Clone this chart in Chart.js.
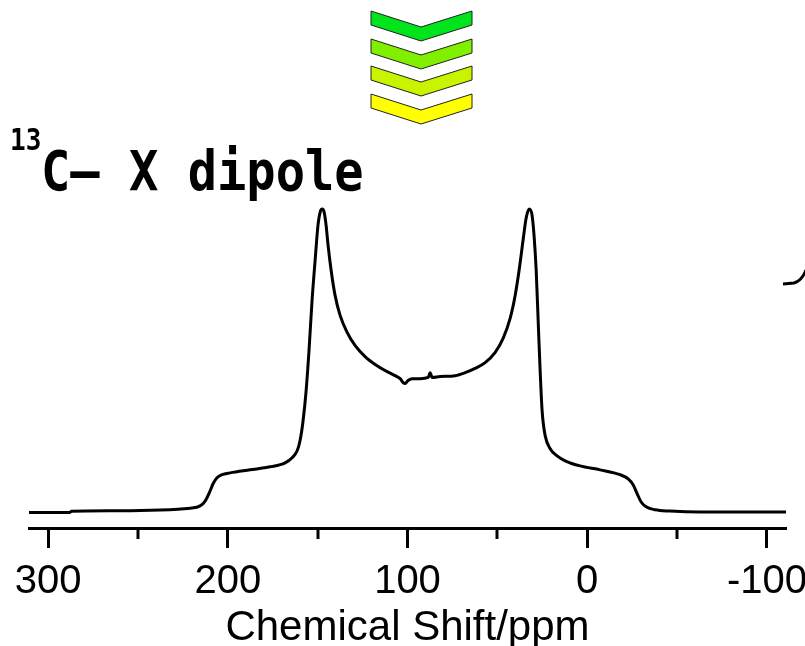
<!DOCTYPE html>
<html>
<head>
<meta charset="utf-8">
<title>13C-X dipole spectrum</title>
<script src="https://cdn.jsdelivr.net/npm/chart.js@4.4.1/dist/chart.umd.min.js"></script>
<style>
  html, body { margin: 0; padding: 0; background: #fff; }
  canvas { display: block; }
</style>
</head>
<body>
<canvas id="espectro" width="805" height="646"></canvas>
<script>
// chemical shift (ppm), left to right
const shiftPpm = [
  310.6, 288.0, 287.0, 265.0, 243.0, 221.0, 215.4, 212.6, 209.8, 208.2,
  206.0, 203.2, 198.7, 187.6, 176.5, 168.1, 164.2, 161.4, 159.8, 158.1,
  156.4, 154.8, 153.1, 151.4, 149.8, 148.6, 147.5, 146.4, 145.3, 144.2,
  142.5, 140.3, 137.5, 133.6, 129.2, 123.6, 118.0, 112.5, 106.9, 104.1,
  102.4, 101.3, 99.7, 97.4, 93.0, 88.5, 87.4, 86.3, 81.9, 73.5,
  67.9, 62.4, 56.8, 51.3, 46.8, 42.9, 40.1, 37.9, 35.7, 34.0,
  32.3, 30.7, 29.6, 28.4, 27.3, 26.2, 25.1, 23.4, 20.6, 16.8,
  12.3, 4.0, -7.2, -18.3, -22.8, -25.6, -27.8, -30.0, -32.8, -37.8,
  -46.1, -62.8, -110.6
];
// intensity (peak = 100)
const intensity = [
  -0.2, -0.2, 0.2, 0.4, 0.6, 1.2, 2.0, 3.6, 7.0, 9.3,
  11.3, 12.3, 12.9, 13.9, 14.9, 16.2, 17.9, 20.2, 23.5, 30.1,
  40.1, 53.3, 69.9, 83.1, 94.7, 99.0, 100, 99.0, 94.7, 88.1,
  79.8, 71.5, 64.9, 59.3, 55.0, 51.3, 48.7, 46.7, 45.0, 44.0,
  42.7, 42.4, 43.4, 44.0, 44.0, 44.4, 46.0, 44.4, 44.7, 45.0,
  46.0, 47.4, 49.3, 52.6, 57.3, 63.9, 71.5, 79.8, 89.7, 97.0,
  100, 98.0, 91.4, 79.8, 63.2, 46.7, 33.4, 25.2, 20.9, 18.5,
  16.9, 15.2, 13.9, 12.3, 10.9, 8.9, 6.0, 3.3, 1.7, 0.7,
  0.3, 0, 0
];
const minorTicks = [250, 150, 50, -50];
const chevronColors = ['#00e41c', '#80f000', '#c8f400', '#ffff00'];

const fonteEixo = '"Liberation Sans", Arial, sans-serif';

const pontos = shiftPpm.map((x, i) => ({ x: x, y: intensity[i] }));

// fundo branco, ticks menores, título e setas
const decoracao = {
  id: 'decoracao',
  beforeDraw(chart) {
    const ctx = chart.ctx;
    ctx.save();
    ctx.fillStyle = '#fff';
    ctx.fillRect(0, 0, chart.width, chart.height);
    ctx.restore();
  },
  afterDraw(chart) {
    const ctx = chart.ctx;
    const sx = chart.scales.x;
    const base = chart.chartArea.bottom;

    ctx.save();
    ctx.strokeStyle = '#000';
    ctx.lineWidth = 3;
    minorTicks.forEach(v => {
      const px = Math.round(sx.getPixelForValue(v));
      ctx.beginPath();
      ctx.moveTo(px, base);
      ctx.lineTo(px, base + 11);
      ctx.stroke();
    });

    // setas
    ctx.lineWidth = 1;
    ctx.strokeStyle = '#222';
    const offs = [0, 28, 55, 83];
    chevronColors.forEach((cor, i) => {
      const t = 11 + offs[i];
      ctx.beginPath();
      ctx.moveTo(371, t);
      ctx.lineTo(421, t + 16);
      ctx.lineTo(472, t);
      ctx.lineTo(472, t + 14);
      ctx.lineTo(421, t + 30);
      ctx.lineTo(371, t + 14);
      ctx.closePath();
      ctx.fillStyle = cor;
      ctx.fill();
      ctx.stroke();
    });

    // título
    const esc = 0.87;
    ctx.fillStyle = '#000';
    ctx.textBaseline = 'alphabetic';
    ctx.textAlign = 'left';
    ctx.save();
    ctx.scale(esc, 1);
    ctx.font = 'bold 30px "DejaVu Sans Mono", monospace';
    ctx.fillText('13', 10 / esc, 150);
    ctx.font = 'bold 56px "DejaVu Sans Mono", monospace';
    ctx.fillText('C\u2013 X dipole', 41 / esc, 190);
    ctx.restore();

    // curva cortada na borda direita
    ctx.lineWidth = 3;
    ctx.strokeStyle = '#000';
    ctx.beginPath();
    ctx.moveTo(783, 284);
    ctx.lineTo(794, 283);
    ctx.quadraticCurveTo(802, 281, 807, 268);
    ctx.stroke();
    ctx.restore();
  }
};

const ctx = document.getElementById('espectro').getContext('2d');
new Chart(ctx, {
  type: 'line',
  data: {
    datasets: [{
      data: pontos,
      borderColor: '#000',
      borderWidth: 3,
      pointRadius: 0,
      fill: false,
      cubicInterpolationMode: 'monotone'
    }]
  },
  options: {
    responsive: false,
    animation: false,
    layout: { padding: { top: 200, left: 29, right: 19, bottom: 0 } },
    plugins: { legend: { display: false }, tooltip: { enabled: false } },
    scales: {
      x: {
        type: 'linear',
        reverse: true,
        min: -110.6,
        max: 310.6,
        afterFit: s => { s.paddingLeft = 0; s.paddingRight = 0; },
        border: { display: true, color: '#000', width: 3 },
        grid: { drawOnChartArea: false, drawTicks: true, tickLength: 20, tickWidth: 3, tickColor: '#000' },
        ticks: {
          stepSize: 100,
          includeBounds: false,
          autoSkip: false,
          maxRotation: 0,
          color: '#000',
          padding: 14,
          font: { family: fonteEixo, size: 40, lineHeight: 1 },
          callback: v => String(v)
        },
        title: {
          display: true,
          text: 'Chemical Shift/ppm',
          color: '#000',
          font: { family: fonteEixo, size: 42, lineHeight: 0.857 },
          padding: { top: -6, bottom: 0 }
        }
      },
      y: {
        display: false,
        min: -5.3,
        max: 103
      }
    }
  },
  plugins: [decoracao]
});
</script>
</body>
</html>
